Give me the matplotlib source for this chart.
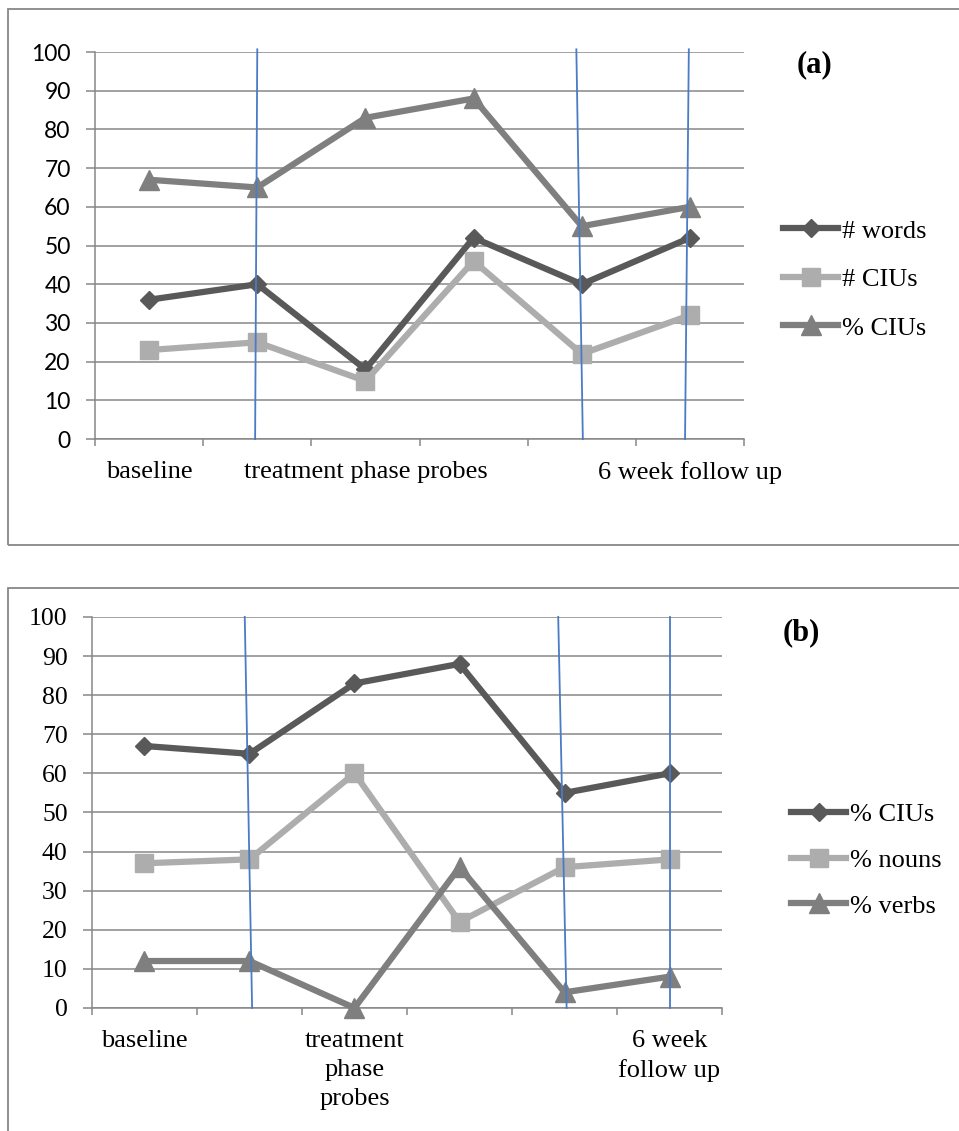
import matplotlib.pyplot as plt
from matplotlib.patches import Rectangle

# probes (6 sessions), only some get a label on the x axis
n_probes = 6
label_pos = [0, 2, 5]
labels_a = ['baseline', 'treatment phase probes', '6 week follow up']
labels_b = ['baseline', 'treatment\nphase\nprobes', '6 week\nfollow up']

# panel (a)
words = [36, 40, 18, 52, 40, 52]
cius = [23, 25, 15, 46, 22, 32]
pct_cius = [67, 65, 83, 88, 55, 60]

# panel (b)
pct_nouns = [37, 38, 60, 22, 36, 38]
pct_verbs = [12, 12, 0, 36, 4, 8]

# hand drawn phase separators: (x at top, x at bottom)
phase_a = [(1.0, 0.98), (3.95, 4.01), (4.99, 4.955)]
phase_b = [(0.955, 1.025), (3.94, 4.02), (5.0, 5.0)]

DARK = '#595959'
LIGHT = '#adadad'
MID = '#7f7f7f'
GRID = '#878787'
BLUE = '#4a7bc4'
SERIF = 'Liberation Serif'

fig = plt.figure(figsize=(9.59, 11.31), dpi=100)

# panel borders
fig.patches.append(Rectangle((0.0083, 0.5181), 1.2, 0.4739, transform=fig.transFigure,
                             fill=False, edgecolor='#878787', lw=1.3))
fig.patches.append(Rectangle((0.0083, -0.1), 1.2, 0.5801, transform=fig.transFigure,
                             fill=False, edgecolor='#878787', lw=1.3))


def setup(ax, labels, ytick_font, ytick_size):
    ax.set_xlim(-0.5, n_probes - 0.5)
    ax.set_ylim(0, 100)
    ax.set_yticks(range(0, 101, 10))
    ax.set_xticks([i - 0.5 for i in range(n_probes + 1)])
    ax.set_xticklabels([])
    ax.set_xticks(label_pos, minor=True)
    ax.set_xticklabels(labels, minor=True, fontfamily=SERIF, fontsize=19, linespacing=1.4)
    ax.tick_params(axis='x', which='major', length=5, width=1.1, color=GRID)
    ax.tick_params(axis='x', which='minor', length=0, pad=16)
    ax.tick_params(axis='y', length=6.5, width=1.1, color=GRID, pad=11)
    for t in ax.get_yticklabels():
        t.set_fontfamily(ytick_font)
        t.set_fontsize(ytick_size)
    ax.grid(axis='y', color=GRID, lw=1.1)
    ax.set_axisbelow(True)
    for s in ['top', 'right']:
        ax.spines[s].set_visible(False)
    for s in ['left', 'bottom']:
        ax.spines[s].set_color(GRID)
        ax.spines[s].set_linewidth(1.1)


def series(ax, y, color, marker, ms, label):
    ax.plot(range(n_probes), y, color=color, lw=4.5, marker=marker, ms=ms,
            mec=color, mfc=color, label=label, clip_on=False, zorder=3)


# ---- (a)
ax1 = fig.add_axes([0.0991, 0.6118, 0.6767, 0.3422])
setup(ax1, labels_a, 'Lato', 16.5)
series(ax1, words, DARK, 'D', 9, '# words')
series(ax1, cius, LIGHT, 's', 13, '# CIUs')
series(ax1, pct_cius, MID, '^', 14, '% CIUs')
for top, bot in phase_a:
    ax1.plot([top, bot], [100.7, 0], color=BLUE, lw=1.3, zorder=5, clip_on=False)
ax1.legend(loc='center left', bbox_to_anchor=(0.8165, 0.753), bbox_transform=fig.transFigure,
           frameon=False, prop={'family': SERIF, 'size': 19}, handlelength=2.1,
           handletextpad=0.15, labelspacing=0.95, borderpad=0, borderaxespad=0, numpoints=1)
fig.text(0.849, 0.9425, '(a)', family=SERIF, weight='bold', fontsize=22, ha='center', va='center')

# ---- (b)
ax2 = fig.add_axes([0.0959, 0.1088, 0.6570, 0.3457])
setup(ax2, labels_b, SERIF, 18.5)
series(ax2, pct_cius, DARK, 'D', 9, '% CIUs')
series(ax2, pct_nouns, LIGHT, 's', 13, '% nouns')
series(ax2, pct_verbs, MID, '^', 14, '% verbs')
for top, bot in phase_b:
    ax2.plot([top, bot], [100, 0], color=BLUE, lw=1.3, zorder=5, clip_on=False)
ax2.legend(loc='center left', bbox_to_anchor=(0.8248, 0.2396), bbox_transform=fig.transFigure,
           frameon=False, prop={'family': SERIF, 'size': 19}, handlelength=2.1,
           handletextpad=0.15, labelspacing=0.85, borderpad=0, borderaxespad=0, numpoints=1)
fig.text(0.836, 0.4403, '(b)', family=SERIF, weight='bold', fontsize=22, ha='center', va='center')

fig.savefig('out.png', dpi=100)
